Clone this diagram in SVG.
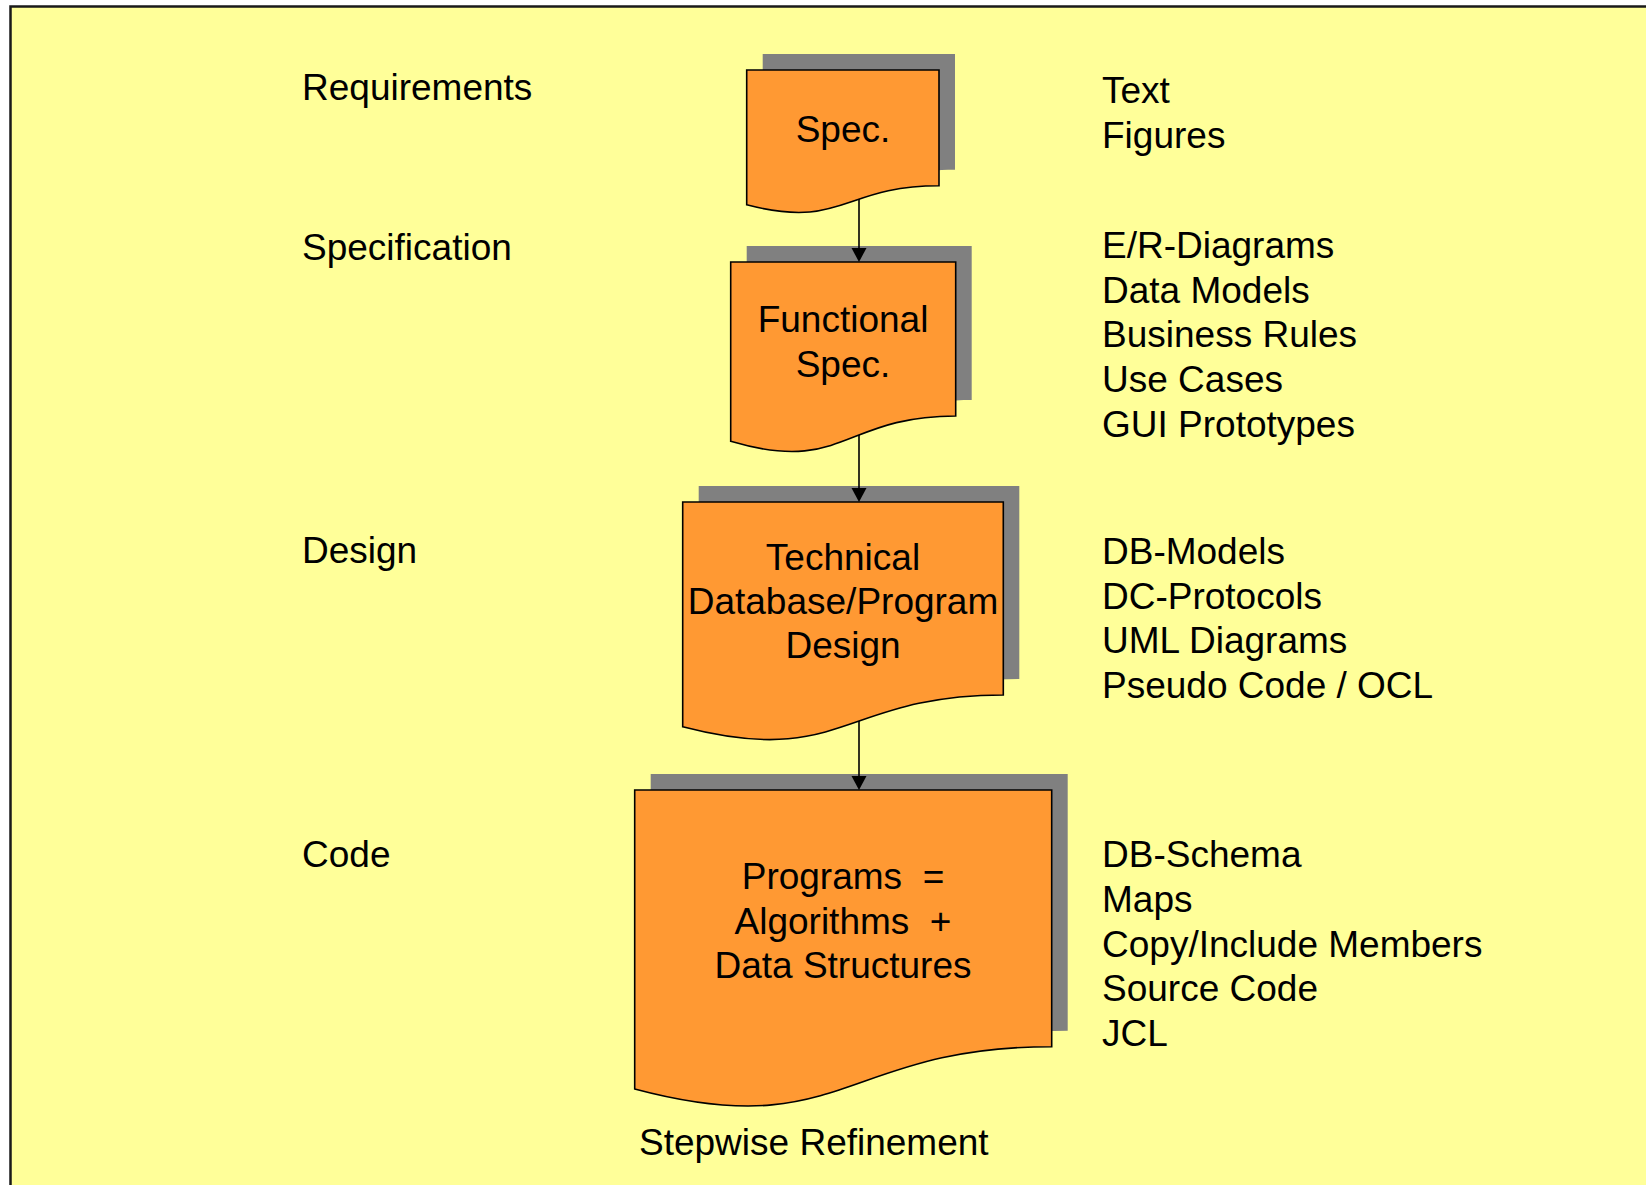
<svg xmlns="http://www.w3.org/2000/svg" width="1646" height="1185" viewBox="0 0 1646 1185">
<style>
  .frame { fill: #FFFF99; stroke: #1a1a1a; stroke-width: 2.5; }
  .shadow { fill: #808080; stroke: none; }
  .doc { fill: #FF9933; stroke: #000; stroke-width: 1.6; stroke-linejoin: miter; }
  text { font-family: "Liberation Sans", Arial, sans-serif; font-size: 37px; fill: #000; }
  .c { text-anchor: middle; }
  .conn { stroke: #000; stroke-width: 1.6; fill: none; marker-end: url(#arrow); }
</style>
<defs>
  <marker id="arrow" markerUnits="userSpaceOnUse" markerWidth="15" markerHeight="16" refX="4" refY="7.5" orient="auto" viewBox="0 0 15 15">
    <path d="M0,0 L14,7.5 L0,15 Z" fill="#000"/>
  </marker>
</defs>

<rect class="frame" x="10.5" y="6.5" width="1660" height="1200"/>

<g id="labels-left">
  <text x="302" y="100">Requirements</text>
  <text x="302" y="260">Specification</text>
  <text x="302" y="563">Design</text>
  <text x="302" y="867">Code</text>
</g>

<g id="node-spec">
  <path class="shadow" transform="translate(16,-16)" d="M746.7,70 H939 V185.7 C842.8,185.7 842.8,229.8 746.7,204.8 Z"/>
  <path class="doc" d="M746.7,70 H939 V185.7 C842.8,185.7 842.8,229.8 746.7,204.8 Z"/>
  <text class="c" x="843" y="142">Spec.</text>
</g>

<g id="node-functional">
  <path class="shadow" transform="translate(16,-16)" d="M730.7,262 H955.7 V416 C843.2,416 843.2,474.6 730.7,441.3 Z"/>
  <path class="doc" d="M730.7,262 H955.7 V416 C843.2,416 843.2,474.6 730.7,441.3 Z"/>
  <text class="c" x="843" y="332">Functional</text>
  <text class="c" x="843" y="377">Spec.</text>
</g>

<g id="node-design">
  <path class="shadow" transform="translate(16,-16)" d="M682.7,502 H1003.3 V695 C843,695 843,768.6 682.7,726.8 Z"/>
  <path class="doc" d="M682.7,502 H1003.3 V695 C843,695 843,768.6 682.7,726.8 Z"/>
  <text class="c" x="843" y="570">Technical</text>
  <text class="c" x="843" y="614">Database/Program</text>
  <text class="c" x="843" y="658">Design</text>
</g>

<g id="node-code">
  <path class="shadow" transform="translate(16,-16)" d="M634.7,790 H1051.7 V1046.7 C843.2,1046.7 843.2,1144.5 634.7,1088.9 Z"/>
  <path class="doc" d="M634.7,790 H1051.7 V1046.7 C843.2,1046.7 843.2,1144.5 634.7,1088.9 Z"/>
  <text class="c" x="843" y="889" xml:space="preserve">Programs  =</text>
  <text class="c" x="843" y="934" xml:space="preserve">Algorithms  +</text>
  <text class="c" x="843" y="978">Data Structures</text>
</g>

<g id="labels-right">
  <text x="1102" y="103">Text</text>
  <text x="1102" y="148">Figures</text>
  <text x="1102" y="258">E/R-Diagrams</text>
  <text x="1102" y="303">Data Models</text>
  <text x="1102" y="347">Business Rules</text>
  <text x="1102" y="392">Use Cases</text>
  <text x="1102" y="437">GUI Prototypes</text>
  <text x="1102" y="564">DB-Models</text>
  <text x="1102" y="609">DC-Protocols</text>
  <text x="1102" y="653">UML Diagrams</text>
  <text x="1102" y="698">Pseudo Code / OCL</text>
  <text x="1102" y="867">DB-Schema</text>
  <text x="1102" y="912">Maps</text>
  <text x="1102" y="957">Copy/Include Members</text>
  <text x="1102" y="1001">Source Code</text>
  <text x="1102" y="1046">JCL</text>
</g>

<g id="caption">
  <text x="639" y="1155">Stepwise Refinement</text>
</g>

<g id="connectors">
  <line class="conn" x1="859" y1="199" x2="859" y2="252"/>
  <line class="conn" x1="859" y1="435" x2="859" y2="492"/>
  <line class="conn" x1="859" y1="721" x2="859" y2="780"/>
</g>
</svg>
